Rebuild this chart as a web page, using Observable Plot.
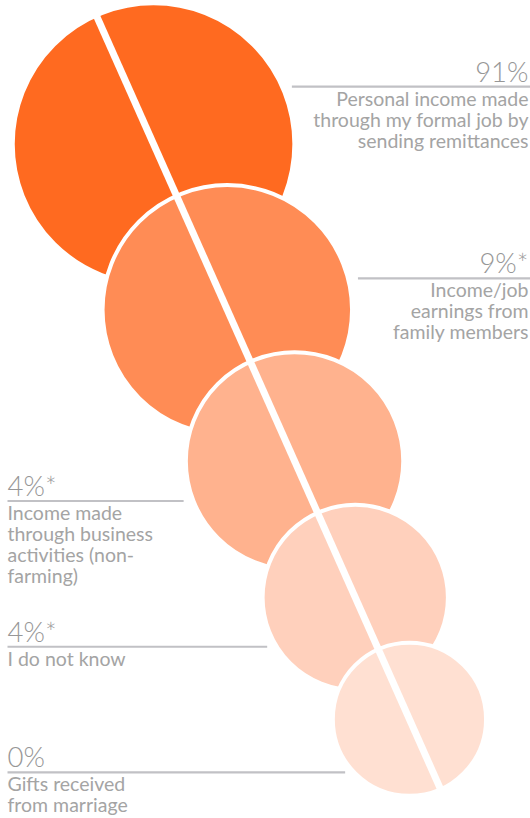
<!DOCTYPE html>
<html>
<head>
<meta charset="utf-8">
<script src="https://cdn.jsdelivr.net/npm/d3@7"></script>
<script src="https://cdn.jsdelivr.net/npm/@observablehq/plot@0.6"></script>
<style>
  html, body { margin: 0; padding: 0; background: #fff; }
  #chart svg { display: block; }
</style>
</head>
<body>
<div id="chart"></div>
<script>
// ---------- data ----------
const categories = [
  "Personal income made\nthrough my formal job by\nsending remittances",
  "Income/job\nearnings from\nfamily members",
  "Income made\nthrough business\nactivities (non-\nfarming)",
  "I do not know",
  "Gifts received\nfrom marriage"
];
const shares = [91, 9, 4, 4, 0];
const lowBase = [false, true, true, true, false];   // marked with *
const shareLabels = shares.map((v, i) => `${v}%${lowBase[i] ? "*" : ""}`);

// ---------- layout & style ----------
const W = 530, H = 818;
const palette = ["#ff6a20", "#ff8c55", "#ffb28e", "#ffd0bc", "#ffe0d2"];
const rDomain = [0, categories.length - 1], rRange = [140.8, 76.6];
const ring = 4;                       // white outline of each disc
const rOf = d3.scaleLinear(rDomain, rRange);
const origin = [153.9, 145.5];        // axis of the chain
const dir = [0.4065, 0.9137];         // direction of the diagonal cut
const step = 58.7, shift = -2.1;      // each disc starts `step` past the previous centre
const labelSide = ["right", "right", "left", "left", "left"];
const labelOffset = [-57.5, -31.5, 40, 49.3, 53.2];
const ruleGap = 12;
const bodySize = 19.5, bodyLH = 21, pctSize = 27.5;
const textColor = "#a4a4a4", pctColor = "#979797", ruleColor = "#c1c1c5";

// along-axis positions
const sPos = [];
categories.forEach((c, k) => {
  sPos[k] = k === 0 ? shift : sPos[k - 1] + step + (rOf(k) - ring / 2);
});

const rows = categories.map((c, k) => {
  const cx = origin[0] + dir[0] * sPos[k];
  const cy = origin[1] + dir[1] * sPos[k];
  const rv = rOf(k) - ring / 2;
  const ly = cy + labelOffset[k];
  const half = Math.sqrt(Math.max(0, rv * rv - (ly - cy) * (ly - cy)));
  const right = labelSide[k] === "right";
  const nLines = c.split("\n").length;
  return {
    category: c, share: shareLabels[k], rank: k, cx, cy, right,
    ly,
    lx1: right ? cx + half + ruleGap : 7,
    lx2: right ? W : cx - half - ruleGap,
    tx: right ? W - 2 : 7,
    py: ly - 5,
    by: ly + 19 + (nLines - 1) * bodyLH
  };
});
const rightRows = rows.filter(d => d.right);
const leftRows = rows.filter(d => !d.right);

const sTop = sPos[0] - rOf(0) - 4;
const sEnd = sPos[sPos.length - 1] + rOf(sPos.length - 1) + 4;
const cut = [{
  x1: origin[0] + dir[0] * sTop, y1: origin[1] + dir[1] * sTop,
  x2: origin[0] + dir[0] * sEnd, y2: origin[1] + dir[1] * sEnd
}];

const bodyCommon = {fill: textColor, fontFamily: "Lato", fontSize: bodySize, lineHeight: bodyLH / bodySize, lineAnchor: "bottom"};
const pctCommon = {fill: pctColor, fontFamily: "Lato", fontSize: pctSize, fontWeight: 300, lineAnchor: "bottom"};

const chart = Plot.plot({
  width: W, height: H, margin: 0,
  style: {fontFamily: "Lato", background: "#fff"},
  x: {type: "linear", domain: [0, W], range: [0, W], axis: null},
  y: {type: "linear", domain: [0, H], range: [0, H], axis: null},
  r: {type: "linear", domain: rDomain, range: rRange},
  color: {domain: categories, range: palette},
  marks: [
    Plot.dot(rows, {x: "cx", y: "cy", r: "rank", fill: "category", stroke: "white", strokeWidth: ring, sort: null}),
    Plot.link(cut, {x1: "x1", y1: "y1", x2: "x2", y2: "y2", stroke: "white", strokeWidth: 7}),
    Plot.link(rows, {x1: "lx1", x2: "lx2", y1: "ly", y2: "ly", stroke: ruleColor, strokeWidth: 2.2}),
    Plot.text(rightRows, {...pctCommon, x: "tx", y: "py", text: "share", textAnchor: "end"}),
    Plot.text(leftRows, {...pctCommon, x: "tx", y: "py", text: "share", textAnchor: "start"}),
    Plot.text(rightRows, {...bodyCommon, x: "tx", y: "by", text: "category", textAnchor: "end"}),
    Plot.text(leftRows, {...bodyCommon, x: "tx", y: "by", text: "category", textAnchor: "start"})
  ]
});
document.getElementById("chart").appendChild(chart);
</script>
</body>
</html>
